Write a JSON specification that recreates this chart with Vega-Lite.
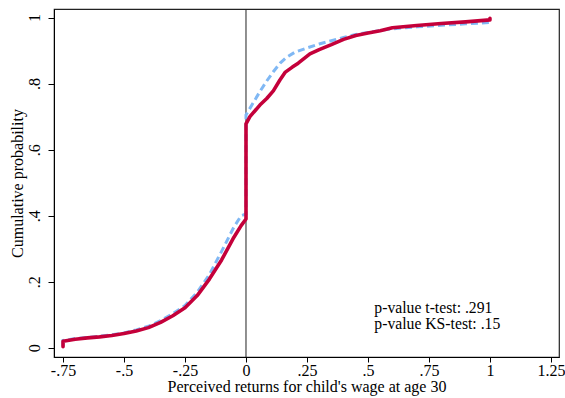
{
  "$schema": "https://vega.github.io/schema/vega-lite/v6.json",
  "width": 505,
  "height": 348,
  "autosize": "none",
  "padding": {"left": 54, "top": 9, "right": 6, "bottom": 41},
  "background": "white",
  "config": {
    "font": "Liberation Serif",
    "view": {"stroke": "#222222", "strokeWidth": 1.2},
    "axis": {
      "domainColor": "#000000",
      "tickColor": "#000000",
      "labelColor": "#000000",
      "titleColor": "#000000",
      "labelFont": "Liberation Serif",
      "titleFont": "Liberation Serif",
      "labelFontSize": 16,
      "titleFontSize": 16,
      "titleFontWeight": "normal",
      "grid": false,
      "tickSize": 5
    }
  },
  "datasets": {
    "curves": [
      {"series": "Blue", "i": 1, "x": -0.75, "p": 0.005},
      {"series": "Blue", "i": 2, "x": -0.75, "p": 0.022},
      {"series": "Blue", "i": 3, "x": -0.7, "p": 0.028},
      {"series": "Blue", "i": 4, "x": -0.65, "p": 0.031},
      {"series": "Blue", "i": 5, "x": -0.6, "p": 0.035},
      {"series": "Blue", "i": 6, "x": -0.55, "p": 0.039},
      {"series": "Blue", "i": 7, "x": -0.5, "p": 0.045},
      {"series": "Blue", "i": 8, "x": -0.45, "p": 0.054},
      {"series": "Blue", "i": 9, "x": -0.4, "p": 0.065},
      {"series": "Blue", "i": 10, "x": -0.35, "p": 0.082},
      {"series": "Blue", "i": 11, "x": -0.3, "p": 0.103},
      {"series": "Blue", "i": 12, "x": -0.25, "p": 0.128},
      {"series": "Blue", "i": 13, "x": -0.2, "p": 0.168},
      {"series": "Blue", "i": 14, "x": -0.15, "p": 0.222},
      {"series": "Blue", "i": 15, "x": -0.1, "p": 0.292},
      {"series": "Blue", "i": 16, "x": -0.05, "p": 0.365},
      {"series": "Blue", "i": 17, "x": -0.02, "p": 0.4},
      {"series": "Blue", "i": 18, "x": 0, "p": 0.405},
      {"series": "Blue", "i": 19, "x": 0, "p": 0.705},
      {"series": "Blue", "i": 20, "x": 0.016, "p": 0.725},
      {"series": "Blue", "i": 21, "x": 0.057, "p": 0.776},
      {"series": "Blue", "i": 22, "x": 0.085, "p": 0.808},
      {"series": "Blue", "i": 23, "x": 0.112, "p": 0.836},
      {"series": "Blue", "i": 24, "x": 0.14, "p": 0.862},
      {"series": "Blue", "i": 25, "x": 0.167, "p": 0.88},
      {"series": "Blue", "i": 26, "x": 0.2, "p": 0.895},
      {"series": "Blue", "i": 27, "x": 0.25, "p": 0.908},
      {"series": "Blue", "i": 28, "x": 0.3, "p": 0.92},
      {"series": "Blue", "i": 29, "x": 0.35, "p": 0.93},
      {"series": "Blue", "i": 30, "x": 0.4, "p": 0.94},
      {"series": "Blue", "i": 31, "x": 0.45, "p": 0.949},
      {"series": "Blue", "i": 32, "x": 0.5, "p": 0.955},
      {"series": "Blue", "i": 33, "x": 0.55, "p": 0.961},
      {"series": "Blue", "i": 34, "x": 0.6, "p": 0.966},
      {"series": "Blue", "i": 35, "x": 0.7, "p": 0.972},
      {"series": "Blue", "i": 36, "x": 0.8, "p": 0.977},
      {"series": "Blue", "i": 37, "x": 0.9, "p": 0.981},
      {"series": "Blue", "i": 38, "x": 1.0, "p": 0.985},
      {"series": "Red", "i": 1, "x": -0.75, "p": 0.003},
      {"series": "Red", "i": 2, "x": -0.75, "p": 0.02},
      {"series": "Red", "i": 3, "x": -0.7, "p": 0.026},
      {"series": "Red", "i": 4, "x": -0.65, "p": 0.03},
      {"series": "Red", "i": 5, "x": -0.6, "p": 0.033},
      {"series": "Red", "i": 6, "x": -0.55, "p": 0.037},
      {"series": "Red", "i": 7, "x": -0.5, "p": 0.043},
      {"series": "Red", "i": 8, "x": -0.45, "p": 0.051},
      {"series": "Red", "i": 9, "x": -0.4, "p": 0.061},
      {"series": "Red", "i": 10, "x": -0.35, "p": 0.077},
      {"series": "Red", "i": 11, "x": -0.3, "p": 0.097},
      {"series": "Red", "i": 12, "x": -0.25, "p": 0.121},
      {"series": "Red", "i": 13, "x": -0.2, "p": 0.158},
      {"series": "Red", "i": 14, "x": -0.15, "p": 0.208},
      {"series": "Red", "i": 15, "x": -0.1, "p": 0.266},
      {"series": "Red", "i": 16, "x": -0.05, "p": 0.334},
      {"series": "Red", "i": 17, "x": -0.02, "p": 0.37},
      {"series": "Red", "i": 18, "x": 0, "p": 0.39},
      {"series": "Red", "i": 19, "x": 0, "p": 0.678},
      {"series": "Red", "i": 20, "x": 0.016, "p": 0.7},
      {"series": "Red", "i": 21, "x": 0.057, "p": 0.735},
      {"series": "Red", "i": 22, "x": 0.085, "p": 0.755},
      {"series": "Red", "i": 23, "x": 0.112, "p": 0.778},
      {"series": "Red", "i": 24, "x": 0.139, "p": 0.811},
      {"series": "Red", "i": 25, "x": 0.16, "p": 0.834},
      {"series": "Red", "i": 26, "x": 0.19, "p": 0.85},
      {"series": "Red", "i": 27, "x": 0.214, "p": 0.862},
      {"series": "Red", "i": 28, "x": 0.262, "p": 0.89},
      {"series": "Red", "i": 29, "x": 0.3, "p": 0.903},
      {"series": "Red", "i": 30, "x": 0.35, "p": 0.918},
      {"series": "Red", "i": 31, "x": 0.4, "p": 0.934},
      {"series": "Red", "i": 32, "x": 0.45, "p": 0.946},
      {"series": "Red", "i": 33, "x": 0.5, "p": 0.953},
      {"series": "Red", "i": 34, "x": 0.55, "p": 0.96},
      {"series": "Red", "i": 35, "x": 0.6, "p": 0.969},
      {"series": "Red", "i": 36, "x": 0.7, "p": 0.976},
      {"series": "Red", "i": 37, "x": 0.8, "p": 0.982},
      {"series": "Red", "i": 38, "x": 0.9, "p": 0.987},
      {"series": "Red", "i": 39, "x": 1.0, "p": 0.993},
      {"series": "Red", "i": 40, "x": 1.0, "p": 0.998}
    ],
    "one": [{"note": "annotation"}]
  },
  "encoding": {
    "x": {
      "type": "quantitative",
      "scale": {"domain": [-0.787, 1.283], "nice": false, "zero": false},
      "axis": {
        "title": "Perceived returns for child's wage at age 30",
        "values": [-0.75, -0.5, -0.25, 0, 0.25, 0.5, 0.75, 1, 1.25],
        "labelExpr": "replace(toString(datum.value), '0.', '.')",
        "labelPadding": 0,
        "titlePadding": 0,
        "labelFlush": false,
        "labelOverlap": false
      }
    },
    "y": {
      "type": "quantitative",
      "scale": {"domain": [-0.028, 1.026], "nice": false, "zero": false},
      "axis": {
        "title": "Cumulative probability",
        "values": [0, 0.2, 0.4, 0.6, 0.8, 1],
        "labelExpr": "replace(toString(datum.value), '0.', '.')",
        "labelAngle": -90,
        "labelAlign": "center",
        "labelBaseline": "bottom",
        "labelPadding": 6,
        "tickSize": 6,
        "titlePadding": 1,
        "labelFlush": false,
        "labelOverlap": false
      }
    }
  },
  "layer": [
    {
      "data": {"name": "one"},
      "mark": {"type": "rule", "color": "#222222", "strokeWidth": 1},
      "encoding": {"x": {"datum": 0}}
    },
    {
      "data": {"name": "curves"},
      "transform": [{"filter": "datum.series === 'Blue'"}],
      "mark": {"type": "line", "color": "#80b8f4", "strokeWidth": 3, "strokeDash": [7, 4]},
      "encoding": {
        "x": {"field": "x", "type": "quantitative"},
        "y": {"field": "p", "type": "quantitative"},
        "order": {"field": "i", "type": "quantitative"}
      }
    },
    {
      "data": {"name": "curves"},
      "transform": [{"filter": "datum.series === 'Red'"}],
      "mark": {"type": "line", "color": "#c4003a", "strokeWidth": 3.6, "strokeCap": "round", "strokeJoin": "round"},
      "encoding": {
        "x": {"field": "x", "type": "quantitative"},
        "y": {"field": "p", "type": "quantitative"},
        "order": {"field": "i", "type": "quantitative"}
      }
    },
    {
      "data": {"name": "one"},
      "mark": {
        "type": "text",
        "text": ["p-value t-test: .291", "p-value KS-test: .15"],
        "align": "left",
        "baseline": "alphabetic",
        "lineHeight": 16,
        "fontSize": 15.7,
        "font": "Liberation Serif",
        "color": "#000000"
      },
      "encoding": {"x": {"datum": 0.526}, "y": {"datum": 0.1067}}
    }
  ]
}
